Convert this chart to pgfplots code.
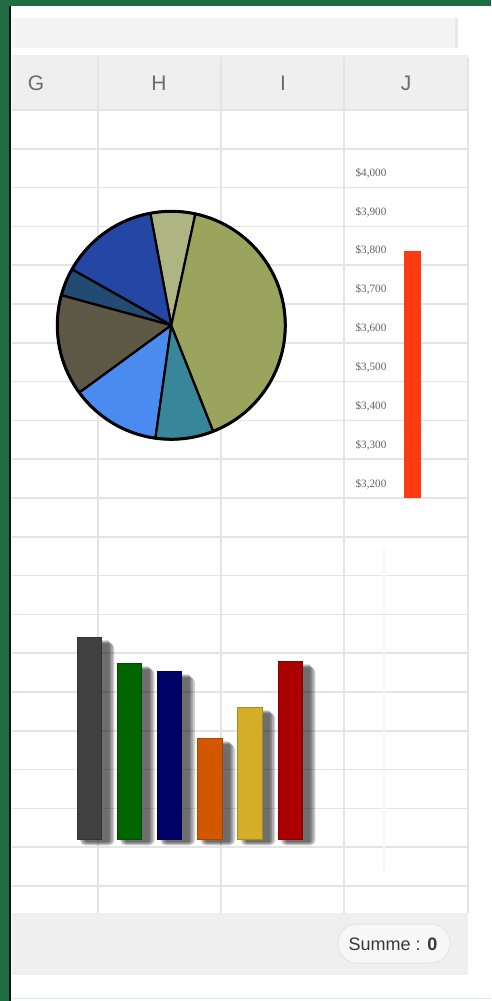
\documentclass[border=0pt]{standalone}
\usepackage{fontspec}
\setmainfont{Liberation Sans}
\newfontfamily\numfont{Liberation Serif}
\usepackage{pgfplots}
\pgfplotsset{compat=1.18}
\usepackage{pgfplotstable}
\definecolor{xlgreen}{HTML}{1F6E43}
\definecolor{fbar}{HTML}{F4F4F4}
\definecolor{hdr}{HTML}{EFEFEF}
\definecolor{gridc}{HTML}{E4E4E4}
\definecolor{pieA}{HTML}{AEB583}
\definecolor{pieB}{HTML}{2447A6}
\definecolor{pieC}{HTML}{234A73}
\definecolor{pieD}{HTML}{5D5946}
\definecolor{pieE}{HTML}{4A8BEF}
\definecolor{pieF}{HTML}{37869A}
\definecolor{pieG}{HTML}{9AA45C}
\definecolor{bA}{HTML}{404040}
\definecolor{bB}{HTML}{006400}
\definecolor{bC}{HTML}{000066}
\definecolor{bD}{HTML}{D25800}
\definecolor{bE}{HTML}{D4AE26}
\definecolor{bF}{HTML}{AA0000}
\definecolor{redbar}{HTML}{FC3B13}
\pgfplotstableread{
x h
0 202
1 176
2 168
3 101
4 132
5 178
}\bardata
\begin{document}
\begin{tikzpicture}
\begin{scope}[x=0.5pt,y=-0.5pt]
\fill[white] (0,0) rectangle (491,1001);
\useasboundingbox (0,0) rectangle (491,1001);
% formula bar
\fill[fbar] (12,18) rectangle (458,48);
\fill[gridc!80] (455,18) rectangle (458,48);
% column header
\fill[hdr] (12,55) rectangle (468,110);
\foreach \x in {98,221,344,468} \draw[gridc, line width=0.75pt] (\x,57) -- (\x,913);
\draw[gridc, line width=0.9pt] (12,110) -- (468,110);
\foreach \k in {1,...,20} \draw[gridc, line width=0.75pt] (12,{110+38.8*\k}) -- (468,{110+38.8*\k});
\draw[gridc!35, line width=0.6pt] (384,548) -- (384,870);
\node[text=black!58, font=\fontsize{10.5}{12}\selectfont] at (36,83) {G};
\node[text=black!58, font=\fontsize{10.5}{12}\selectfont] at (159,83) {H};
\node[text=black!58, font=\fontsize{10.5}{12}\selectfont] at (283,83) {I};
\node[text=black!58, font=\fontsize{10.5}{12}\selectfont] at (406,83) {J};
% status bar
\fill[hdr] (12,913) rectangle (468,975);
\filldraw[fill=white!97!black, draw=black!10, line width=0.5pt, rounded corners=9.5pt] (338,924) rectangle (450,963);
\node[text=black!78, font=\fontsize{9}{11}\selectfont] at (393,944) {Summe : \textbf{0}};
\end{scope}

% ---------- pie chart ----------
\begin{axis}[hide axis, scale only axis, width=114pt, height=114pt,
  xmin=-1, xmax=1, ymin=-1, ymax=1, clip=false,
  at={(85.65pt,-162.65pt)}, anchor=center]
\xdef\angacc{77.8}
\foreach \v/\c in {22.8/pieA, 50.0/pieB, 14.1/pieC, 51.5/pieD, 45.8/pieE, 29.6/pieF, 146.2/pieG}{
  \pgfmathsetmacro\aend{\angacc+\v}
  \edef\tmp{\noexpand\filldraw[fill=\c, draw=black, line width=1.1pt, line join=round]
    (axis cs:0,0) -- (axis cs:{cos(\angacc)},{sin(\angacc)})
    arc[start angle=\angacc, end angle=\aend, radius=57pt] -- cycle;}
  \tmp
  \xdef\angacc{\aend}
}
\draw[black, line width=1.5pt] (axis cs:0,0) circle[radius=57pt];
\end{axis}

% ---------- red single bar ----------
\begin{axis}[scale only axis, width=17.5pt, height=162.7pt,
  at={(197.5pt,-249.15pt)}, anchor=south west,
  xmin=0.5, xmax=1.5, ymin=3164, ymax=4000,
  hide x axis, axis y line*=left, y axis line style={draw=none},
  ytick={3200,3300,3400,3500,3600,3700,3800,3900,4000},
  yticklabels={{\$3,200},{\$3,300},{\$3,400},{\$3,500},{\$3,600},{\$3,700},{\$3,800},{\$3,900},{\$4,000}},
  major tick length=0pt, ytick style={draw=none},
  yticklabel style={font=\numfont\fontsize{5.6}{6}\selectfont, text=black!62, inner sep=0pt, anchor=east, xshift=-4.1pt}]
\addplot[ybar, bar width=8.9pt, fill=redbar, draw=none] coordinates {(1,3800)};
\end{axis}

% ---------- bar chart ----------
\begin{axis}[hide axis, scale only axis, width=120.6pt, height=125pt,
  at={(34.55pt,-419.65pt)}, anchor=south west,
  xmin=-0.5, xmax=5.5, ymin=0, ymax=250, clip=false]
% soft drop shadow: stacked translucent copies of the bars
\addplot[ybar, bar width=17.25pt, bar shift=4pt, yshift=-3pt, fill=black, fill opacity=0.19, draw=none, rounded corners=2.5pt] table[x=x,y=h]{\bardata};
\addplot[ybar, bar width=15.6pt, bar shift=4pt, yshift=-2.5pt, fill=black, fill opacity=0.19, draw=none, rounded corners=2pt] table[x=x,y=h]{\bardata};
\addplot[ybar, bar width=13.9pt, bar shift=4pt, yshift=-2pt, fill=black, fill opacity=0.19, draw=none, rounded corners=1.5pt] table[x=x,y=h]{\bardata};
\addplot[ybar, bar width=12.25pt, bar shift=4pt, yshift=-1.5pt, fill=black, fill opacity=0.19, draw=none, rounded corners=1pt] table[x=x,y=h]{\bardata};
% bars
\addplot[ybar, bar width=12.25pt, fill=bA, draw=bA!80!black, line width=0.4pt] coordinates {(0,202)};
\addplot[ybar, bar width=12.25pt, fill=bB, draw=bB!80!black, line width=0.4pt] coordinates {(1,176)};
\addplot[ybar, bar width=12.25pt, fill=bC, draw=bC!80!black, line width=0.4pt] coordinates {(2,168)};
\addplot[ybar, bar width=12.25pt, fill=bD, draw=bD!80!black, line width=0.4pt] coordinates {(3,101)};
\addplot[ybar, bar width=12.25pt, fill=bE, draw=bE!80!black, line width=0.4pt] coordinates {(4,132)};
\addplot[ybar, bar width=12.25pt, fill=bF, draw=bF!80!black, line width=0.4pt] coordinates {(5,178)};
\end{axis}

% ---------- window frame ----------
\begin{scope}[x=0.5pt,y=-0.5pt]
\fill[xlgreen] (0,0) rectangle (491,6);
\fill[xlgreen] (0,0) rectangle (8.5,1001);
\fill[black!85!xlgreen] (8.5,6) rectangle (10.5,1001);
\draw[xlgreen!15, line width=0.5pt] (10.5,998) -- (491,998);
\end{scope}
\end{tikzpicture}
\end{document}
